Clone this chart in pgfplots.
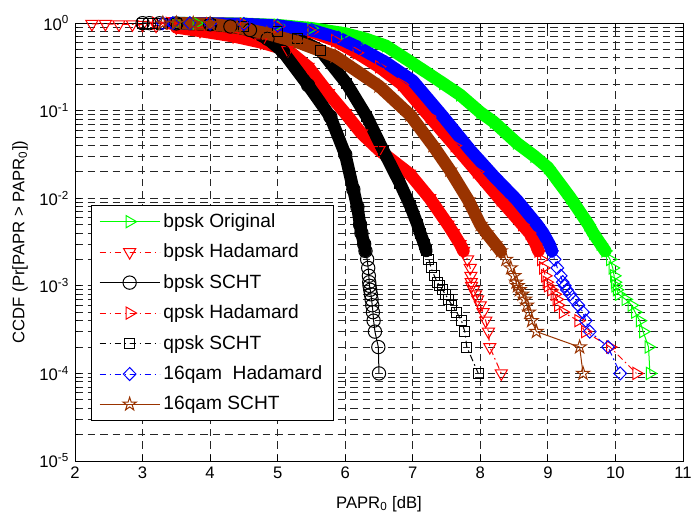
\documentclass[border=0pt]{standalone}
\usepackage{fontspec}
\setmainfont{Liberation Sans}
\usepackage{pgfplots}
\usepackage{pgfplotstable}
\pgfplotsset{compat=1.18}
\usetikzlibrary{plotmarks}

\definecolor{mgreen}{rgb}{0,1,0}
\definecolor{mbrown}{RGB}{153,51,0}

% MATLAB style pentagram (outline)
\pgfdeclareplotmark{pentagram}{%
  \pgfpathmoveto{\pgfpointpolar{90}{\pgfplotmarksize}}%
  \pgfpathlineto{\pgfpointpolar{126}{0.38*\pgfplotmarksize}}%
  \pgfpathlineto{\pgfpointpolar{162}{\pgfplotmarksize}}%
  \pgfpathlineto{\pgfpointpolar{198}{0.38*\pgfplotmarksize}}%
  \pgfpathlineto{\pgfpointpolar{234}{\pgfplotmarksize}}%
  \pgfpathlineto{\pgfpointpolar{270}{0.38*\pgfplotmarksize}}%
  \pgfpathlineto{\pgfpointpolar{306}{\pgfplotmarksize}}%
  \pgfpathlineto{\pgfpointpolar{342}{0.38*\pgfplotmarksize}}%
  \pgfpathlineto{\pgfpointpolar{18}{\pgfplotmarksize}}%
  \pgfpathlineto{\pgfpointpolar{54}{0.38*\pgfplotmarksize}}%
  \pgfpathclose
  \pgfusepathqstroke
}

% bpsk original
\pgfplotstableread{
x y
3.50 0.9954
3.80 0.9930
4.00 0.9886
4.50 0.9772
5.00 0.9441
5.50 0.8710
6.00 0.7586
6.30 0.6607
6.60 0.5495
7.00 0.3467
7.45 0.2042
7.70 0.1514
8.00 0.0955
8.20 0.0741
8.54 0.0427
8.80 0.0302
9.00 0.0224
9.33 0.0102
9.60 0.0050
9.67 0.0040
9.78 0.0030
9.85 0.0025
9.92 0.0020
9.96 0.0016
9.98 0.0013
9.99 0.0011
10.00 0.0010
10.02 0.0009
10.05 0.0008
10.15 0.0007
10.24 0.0006
10.29 0.0005
10.36 0.0004
10.41 0.0003
10.49 0.0002
10.51 0.0001
}\bpskorig

% bpsk hadamard
\pgfplotstableread{
x y
2.25 0.9772
2.45 0.9772
2.65 0.9660
2.85 0.9660
3.00 0.9550
3.20 0.9333
3.50 0.8913
3.85 0.8128
4.34 0.7079
4.75 0.6026
5.15 0.4898
5.45 0.3162
5.75 0.1585
6.00 0.0933
6.24 0.0550
6.50 0.0355
6.95 0.0191
7.25 0.0100
7.52 0.0050
7.60 0.0040
7.70 0.0030
7.75 0.0025
7.81 0.0020
7.85 0.0016
7.86 0.0013
7.865 0.0011
7.87 0.0010
7.90 0.0009
7.93 0.0008
7.96 0.0007
8.00 0.0006
8.04 0.0005
8.08 0.0004
8.12 0.0003
8.14 0.0002
8.31 0.0001
}\bpskhad

% bpsk SCHT
\pgfplotstableread{
x y
3.00 0.9954
3.10 0.9954
3.25 0.9930
3.50 0.9886
4.00 0.9660
4.30 0.9120
4.59 0.8318
4.85 0.6607
5.08 0.4677
5.45 0.1950
5.78 0.0851
6.00 0.0316
6.12 0.0126
6.18 0.00794
6.22 0.0050
6.24 0.0040
6.28 0.0030
6.30 0.0025
6.325 0.0020
6.34 0.0016
6.35 0.0013
6.355 0.0011
6.36 0.0010
6.37 0.0009
6.38 0.0008
6.39 0.0007
6.40 0.0006
6.41 0.0005
6.42 0.0004
6.44 0.0003
6.49 0.0002
6.50 0.0001
}\bpskscht

% qpsk hadamard
\pgfplotstableread{
x y
3.20 0.9954
3.40 0.9930
4.00 0.9817
4.50 0.9660
5.00 0.9120
5.50 0.7943
5.85 0.6310
6.17 0.4571
6.50 0.3162
6.84 0.1995
7.25 0.0851
7.62 0.0398
7.95 0.0200
8.30 0.00955
8.62 0.0050
8.73 0.0040
8.82 0.0030
8.86 0.0025
8.90 0.0020
8.93 0.0016
8.96 0.0013
8.98 0.0011
9.00 0.0010
9.05 0.0009
9.10 0.0008
9.13 0.0007
9.15 0.0006
9.22 0.0005
9.45 0.0004
9.55 0.0003
9.92 0.0002
10.31 0.0001
}\qpskhad

% qpsk SCHT
\pgfplotstableread{
x y
3.00 0.9954
3.15 0.9954
3.30 0.9930
3.50 0.9863
4.00 0.9727
4.50 0.9226
5.00 0.7943
5.30 0.6607
5.63 0.4898
6.02 0.2042
6.32 0.0851
6.56 0.0355
6.81 0.0148
6.96 0.00832
7.07 0.0050
7.11 0.0040
7.17 0.0030
7.20 0.0025
7.24 0.0020
7.27 0.0016
7.32 0.0013
7.36 0.0011
7.40 0.0010
7.44 0.0009
7.48 0.0008
7.53 0.0007
7.58 0.0006
7.65 0.0005
7.72 0.0004
7.77 0.0003
7.80 0.0002
7.97 0.0001
}\qpskscht

% 16qam hadamard
\pgfplotstableread{
x y
3.30 0.9954
3.45 0.9954
3.70 0.9930
4.00 0.9863
4.50 0.9727
5.00 0.9333
5.50 0.8318
5.90 0.6761
6.20 0.5248
6.60 0.3548
7.00 0.2188
7.45 0.0851
7.85 0.0355
8.20 0.0178
8.54 0.00955
8.84 0.0050
8.93 0.0040
9.02 0.0030
9.06 0.0025
9.10 0.0020
9.14 0.0016
9.19 0.0013
9.22 0.0011
9.25 0.0010
9.28 0.0009
9.33 0.0008
9.38 0.0007
9.45 0.0006
9.52 0.0005
9.56 0.0004
9.62 0.0003
9.89 0.0002
10.07 0.0001
}\qamhad

% 16qam SCHT
\pgfplotstableread{
x y
3.30 0.9954
3.50 0.9930
3.75 0.9886
4.00 0.9772
4.40 0.8913
4.84 0.7586
5.30 0.6026
5.85 0.4169
6.50 0.1905
6.96 0.0891
7.30 0.0398
7.55 0.0209
7.82 0.00955
8.00 0.0050
8.09 0.0040
8.22 0.0030
8.30 0.0025
8.38 0.0020
8.45 0.0016
8.50 0.0013
8.53 0.0011
8.55 0.0010
8.58 0.0009
8.62 0.0008
8.66 0.0007
8.69 0.0006
8.72 0.0005
8.76 0.0004
8.83 0.0003
9.47 0.0002
9.52 0.0001
}\qamscht

\begin{document}
\begin{tikzpicture}
\begin{axis}[
    width=364.8pt, height=262.8pt, scale only axis,
    xmin=2, xmax=11,
    ymode=log, ymin=1e-5, ymax=1,
    clip=false,
    xtick={2,3,4,5,6,7,8,9,10,11},
    xticklabels={2,3,4,5,6,7,8,9,10,11},
    ytick={1e-5,1e-4,1e-3,1e-2,1e-1,1},
    yticklabels={10\textsuperscript{-5},10\textsuperscript{-4},10\textsuperscript{-3},10\textsuperscript{-2},10\textsuperscript{-1},10\textsuperscript{0}},
    tick label style={font=\fontsize{10}{12}\selectfont},
    label style={font=\fontsize{10}{12}\selectfont},
    xlabel={PAPR\textsubscript{0} [dB]},
    ylabel={CCDF (Pr[PAPR > PAPR\textsubscript{0}])},
    every axis x label/.style={at={(axis description cs:0.5,-0.098)}, anchor=center},
    every axis y label/.style={at={(axis description cs:-0.0905,0.5)}, rotate=90, anchor=center},
    grid=both,
    major grid style={black!85, line width=0.55pt, dash pattern=on 4.5pt off 3pt},
    minor grid style={black!85, line width=0.55pt, dash pattern=on 4.5pt off 3pt},
    tick align=inside, tick pos=both,
    major tick length=3.6pt, minor tick length=2pt,
    tick style={black, line width=0.5pt},
    axis line style={black, line width=0.6pt},
    legend cell align=left,
    legend image code/.code={\draw[mark repeat=2, mark phase=2, #1] plot coordinates {(0pt,0pt) (18pt,0pt) (36pt,0pt)};},
    legend style={at={(0.0263,0.0913)}, anchor=south west, draw=black, fill=white,
        line width=0.6pt, inner xsep=4.6pt, inner ysep=3pt, row sep=4.45pt,
        font=\fontsize{11.5}{13.8}\selectfont, cells={anchor=west},
        column 2/.style={text width=104pt}},
    hadam/.style={dash pattern=on 4pt off 2pt on 1pt off 2pt},
    band/.style={forget plot, no markers, line width=7.5pt, line join=round, line cap=round},
]
\coordinate (SW) at (rel axis cs:0,0);
\coordinate (NE) at (rel axis cs:1,1);

% bpsk Original
\addplot[band, mgreen, restrict x to domain=3.5:9.86] table {\bpskorig};
\addplot[mgreen, line width=0.6pt, mark=triangle, mark size=4.2pt, mark options={solid, rotate=-90}] table {\bpskorig};
\addlegendentry{bpsk Original}

% bpsk Hadamard
\addplot[band, red, restrict x to domain=3.4:7.76] table {\bpskhad};
\addplot[red, hadam, line width=0.6pt, mark=triangle, mark size=4.2pt, mark options={solid, rotate=180}] table {\bpskhad};
\addlegendentry{bpsk Hadamard}

% bpsk SCHT
\addplot[band, black, restrict x to domain=3.4:6.305] table {\bpskscht};
\addplot[black, line width=0.6pt, mark=o, mark size=4pt, mark options={solid}] table {\bpskscht};
\addlegendentry{bpsk SCHT}

% qpsk Hadamard
\addplot[band, red, restrict x to domain=3.4:8.87] table {\qpskhad};
\addplot[red, hadam, line width=0.6pt, mark=triangle, mark size=4.2pt, mark options={solid, rotate=-90}] table {\qpskhad};
\addlegendentry{qpsk Hadamard}

% qpsk SCHT
\addplot[band, black, restrict x to domain=3.4:7.21] table {\qpskscht};
\addplot[black, hadam, line width=0.6pt, mark=square, mark size=3pt, mark options={solid}] table {\qpskscht};
\addlegendentry{qpsk SCHT}

% 16qam Hadamard
\addplot[band, blue, restrict x to domain=3.4:9.07] table {\qamhad};
\addplot[blue, hadam, line width=0.6pt, mark=diamond, mark size=3.9pt, mark options={solid, xscale=1.3}] table {\qamhad};
\addlegendentry{16qam\ \ Hadamard}

% 16qam SCHT
\addplot[band, mbrown, restrict x to domain=3.4:8.31] table {\qamscht};
\addplot[mbrown, line width=0.6pt, mark=pentagram, mark size=4.2pt, mark options={solid}] table {\qamscht};
\addlegendentry{16qam SCHT}
\end{axis}
\pgfresetboundingbox
\path ([shift={(-45pt,-31.8pt)}]SW) rectangle ([shift={(4.8pt,13.8pt)}]NE);
\end{tikzpicture}
\end{document}
